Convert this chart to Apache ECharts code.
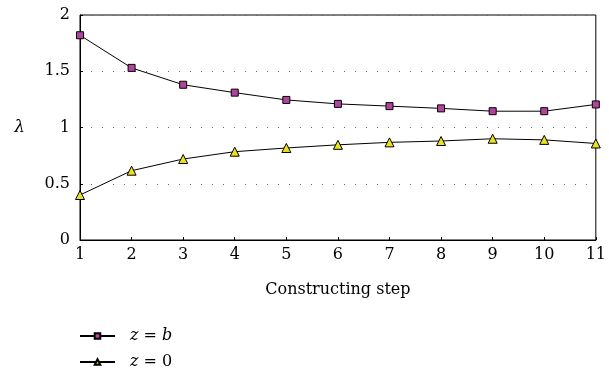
<!DOCTYPE html>
<html>
<head>
<meta charset="utf-8">
<script src="https://cdn.jsdelivr.net/npm/echarts@6/dist/echarts.min.js"></script>
<style>html,body{margin:0;padding:0;background:#fff}#c{width:609px;height:374px}</style>
</head>
<body>
<div id="c"></div>
<script>
var steps = [1, 2, 3, 4, 5, 6, 7, 8, 9, 10, 11];
var zbValues = [1.82, 1.53, 1.38, 1.31, 1.245, 1.21, 1.19, 1.17, 1.145, 1.145, 1.205];
var z0Values = [0.40, 0.616, 0.72, 0.785, 0.818, 0.846, 0.868, 0.88, 0.90, 0.89, 0.858];
var seriesNames = ['z = b', 'z = 0'];
var legendRich = ['{i|z} = {i|b}', '{i|z} = 0'];

var FONT = 'DejaVu Serif';
var chart = echarts.init(document.getElementById('c'));
function pairs(vals) { return steps.map(function (s, i) { return [s, vals[i]]; }); }
function legendFor(idx, top) {
  return {
    orient: 'vertical', left: 79, top: top, itemWidth: 35, itemHeight: 7, padding: 0,
    data: [seriesNames[idx]],
    formatter: function (n) { return legendRich[seriesNames.indexOf(n)]; },
    textStyle: { fontFamily: FONT, fontSize: 16, color: '#000', padding: [0, 0, 0, 10],
      rich: { i: { fontFamily: FONT, fontSize: 16, fontStyle: 'italic', color: '#000' } } }
  };
}
chart.setOption({
  animation: false,
  backgroundColor: '#fff',
  grid: { left: 80, right: 7, top: 15, bottom: 134, show: true, borderColor: '#000', borderWidth: 1, backgroundColor: 'transparent' },
  xAxis: {
    type: 'value', min: 1, max: 11, interval: 1,
    name: 'Constructing step', nameLocation: 'middle', nameGap: 42,
    nameTextStyle: { fontFamily: FONT, fontSize: 16, color: '#000' },
    axisLine: { show: true, lineStyle: { color: '#000', width: 1 } },
    axisTick: { show: true, inside: true, length: 3, lineStyle: { color: '#000' } },
    axisLabel: { fontFamily: FONT, fontSize: 16, color: '#000', margin: 7 },
    splitLine: { show: false }
  },
  yAxis: {
    type: 'value', min: 0, max: 2, interval: 0.5,
    name: 'λ', nameLocation: 'middle', nameGap: 55, nameRotate: 0,
    nameTextStyle: { fontFamily: FONT, fontSize: 17, fontStyle: 'italic', color: '#000' },
    axisLine: { show: true, lineStyle: { color: '#000', width: 1 } },
    axisTick: { show: true, inside: true, length: 3, lineStyle: { color: '#000' } },
    axisLabel: { fontFamily: FONT, fontSize: 16, color: '#000', margin: 10 },
    splitLine: { show: true, lineStyle: { color: '#666', width: 1, type: [1, 10] } }
  },
  legend: [legendFor(0, 328), legendFor(1, 354)],
  series: [
    {
      name: seriesNames[0], type: 'line', data: pairs(zbValues),
      symbol: 'rect', symbolSize: 7,
      lineStyle: { color: '#000', width: 1 },
      itemStyle: { color: '#B0449E', borderColor: '#000', borderWidth: 1 }
    },
    {
      name: seriesNames[1], type: 'line', data: pairs(z0Values),
      symbol: 'triangle', symbolSize: 9,
      lineStyle: { color: '#000', width: 1 },
      itemStyle: { color: '#EAE21E', borderColor: '#000', borderWidth: 1 }
    }
  ]
});
</script>
</body>
</html>
